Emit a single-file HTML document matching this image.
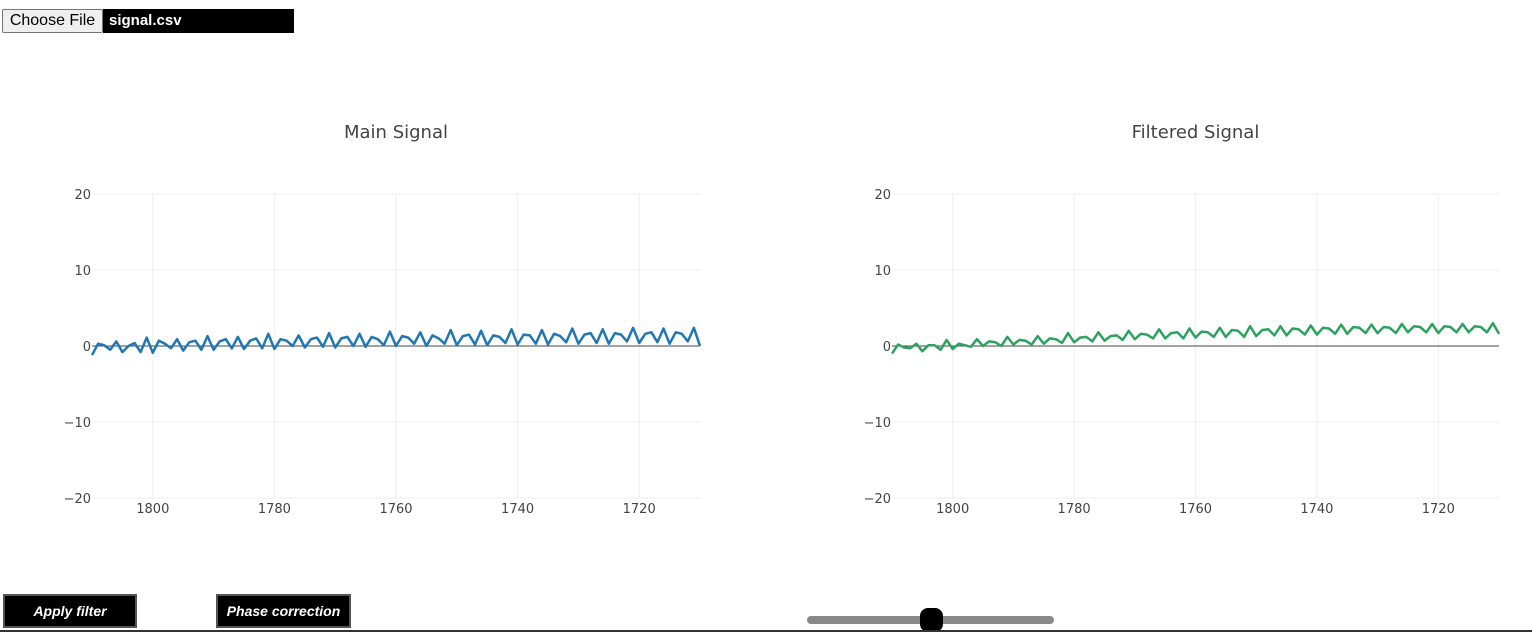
<!DOCTYPE html>
<html><head><meta charset="utf-8"><style>
body{margin:0;width:1532px;height:632px;overflow:hidden;background:#fff;font-family:"Liberation Sans",sans-serif;position:relative}
#file{position:absolute;left:2px;top:9px;height:24px;display:flex}
#file .btn{width:99px;height:22px;border:1px solid #767676;background:#efefef;font-size:16px;line-height:22px;text-align:center;color:#000;border-radius:2px}
#file .name{width:191px;height:24px;background:#000;color:#fff;font-weight:bold;font-size:15px;line-height:24px;padding-left:6px;box-sizing:border-box}
.act{position:absolute;top:594px;height:34px;background:#000;border:2px solid #555;box-sizing:border-box;color:#fff;font-weight:bold;font-style:italic;font-size:14px;line-height:30px;text-align:center}
#track{position:absolute;left:807px;top:616px;width:247px;height:8px;border-radius:4px;background:#888}
#thumb{position:absolute;left:920px;top:608px;width:23px;height:24px;border-radius:8px;background:#000}
#bline{position:absolute;left:0;top:630px;width:1532px;height:2px;background:#333}
</style></head><body>
<div id="file"><div class="btn">Choose File</div><div class="name">signal.csv</div></div>
<svg id="chart" width="1532" height="632" style="position:absolute;left:0;top:0"></svg>
<div class="act" style="left:3px;width:134px">Apply filter</div>
<div class="act" style="left:216px;width:135px">Phase correction</div>
<div id="track"></div>
<div id="thumb"></div>
<div id="bline"></div>
<script>
const years=[];for(let y=1810;y>=1710;y--)years.push(y);
const yTicks=[20,10,0,-10,-20];
const xTicks=[1800,1780,1760,1740,1720];
const mainSignal=[-1.2,0.3,0.1,-0.5,
0.6,-0.8,0.0,0.4,-0.8, 1.1,-0.9,0.7,0.3,-0.3, 0.9,-0.6,0.5,0.7,-0.5, 1.3,-0.5,0.6,0.9,-0.3,
1.2,-0.4,0.7,1.0,-0.3, 1.6,-0.4,0.9,0.7,0.0, 1.4,-0.2,0.9,1.1,-0.1, 1.7,-0.2,1.0,1.2,0.0,
1.6,-0.1,1.2,0.9,0.1, 1.9,0.0,1.3,1.1,0.3, 1.8,0.0,1.4,1.0,0.3, 2.1,0.1,1.3,1.5,0.2,
2.0,0.1,1.4,1.2,0.4, 2.2,0.2,1.5,1.4,0.3, 2.1,0.2,1.6,1.3,0.5, 2.3,0.3,1.5,1.7,0.4,
2.2,0.3,1.7,1.5,0.6, 2.4,0.4,1.6,1.8,0.5, 2.3,0.3,1.8,1.6,0.6, 2.4,0.0];
const filteredSignal=[-1.0,0.2,-0.2,-0.3,
0.3,-0.7,0.1,0.1,-0.5, 0.8,-0.4,0.3,0.1,-0.1, 0.9,0.0,0.6,0.5,0.0, 1.2,0.2,0.8,0.7,0.2,
1.3,0.3,1.0,0.9,0.4, 1.7,0.5,1.1,1.2,0.6, 1.8,0.7,1.3,1.4,0.8, 2.0,0.9,1.6,1.5,1.0,
2.2,1.0,1.7,1.8,1.0, 2.3,1.1,1.9,1.8,1.2, 2.4,1.2,2.1,2.0,1.2, 2.6,1.3,2.1,2.2,1.4,
2.6,1.4,2.3,2.2,1.5, 2.7,1.5,2.4,2.3,1.6, 2.8,1.6,2.5,2.4,1.7, 2.8,1.7,2.5,2.4,1.7,
2.9,1.8,2.6,2.5,1.8, 2.9,1.7,2.6,2.5,1.8, 2.9,1.8,2.6,2.5,1.8, 3.0,1.6];
const NS="http://www.w3.org/2000/svg";
const svg=document.getElementById('chart');
function mk(tag,attrs,parent){const e=document.createElementNS(NS,tag);for(const k in attrs)e.setAttribute(k,attrs[k]);(parent||svg).appendChild(e);return e;}
function plot(x0,x1,title,data,color,name){
  const y0=194,y1=498;
  const xs=v=>x0+(1810-v)/100*(x1-x0);
  const ys=v=>y0+(20-v)/40*(y1-y0);
  const g=mk('g',{});
  
  
  const t=mk('text',{x:(x0+x1)/2,y:138,'text-anchor':'middle','font-size':18,fill:'#444','font-family':'DejaVu Sans, sans-serif'},g);
  t.textContent=title;
  
  
  xTicks.forEach(v=>{
    const l=mk('line',{x1:xs(v),x2:xs(v),y1:y0,y2:y1,stroke:'#eee'},g);
    
    
    const tx=mk('text',{x:xs(v),y:513,'text-anchor':'middle','font-size':13,fill:'#444','font-family':'DejaVu Sans, sans-serif'},g);
    tx.textContent=v;
    
    
  });
  yTicks.forEach(v=>{
    const l=mk('line',{x1:x0,x2:x1,y1:ys(v),y2:ys(v),stroke:v===0?'#444':'#eee'},g);
    
    
    const tx=mk('text',{x:x0-1,y:ys(v)+5,'text-anchor':'end','font-size':13,fill:'#444','font-family':'DejaVu Sans, sans-serif'},g);
    tx.textContent=v<0?'\u2212'+(-v):v;
    
    
  });
  const pts=data.map((v,i)=>xs(years[i]).toFixed(1)+','+ys(v).toFixed(1)).join(' ');
  const pl=mk('polyline',{points:pts,fill:'none',stroke:color,'stroke-width':2.5,'stroke-linejoin':'round'},g);
  
  
}
plot(92,700,'Main Signal',mainSignal,'#1f77b4','main-signal-chart');
plot(892,1499,'Filtered Signal',filteredSignal,'#2ca25f','filtered-signal-chart');
</script>
</body></html>
